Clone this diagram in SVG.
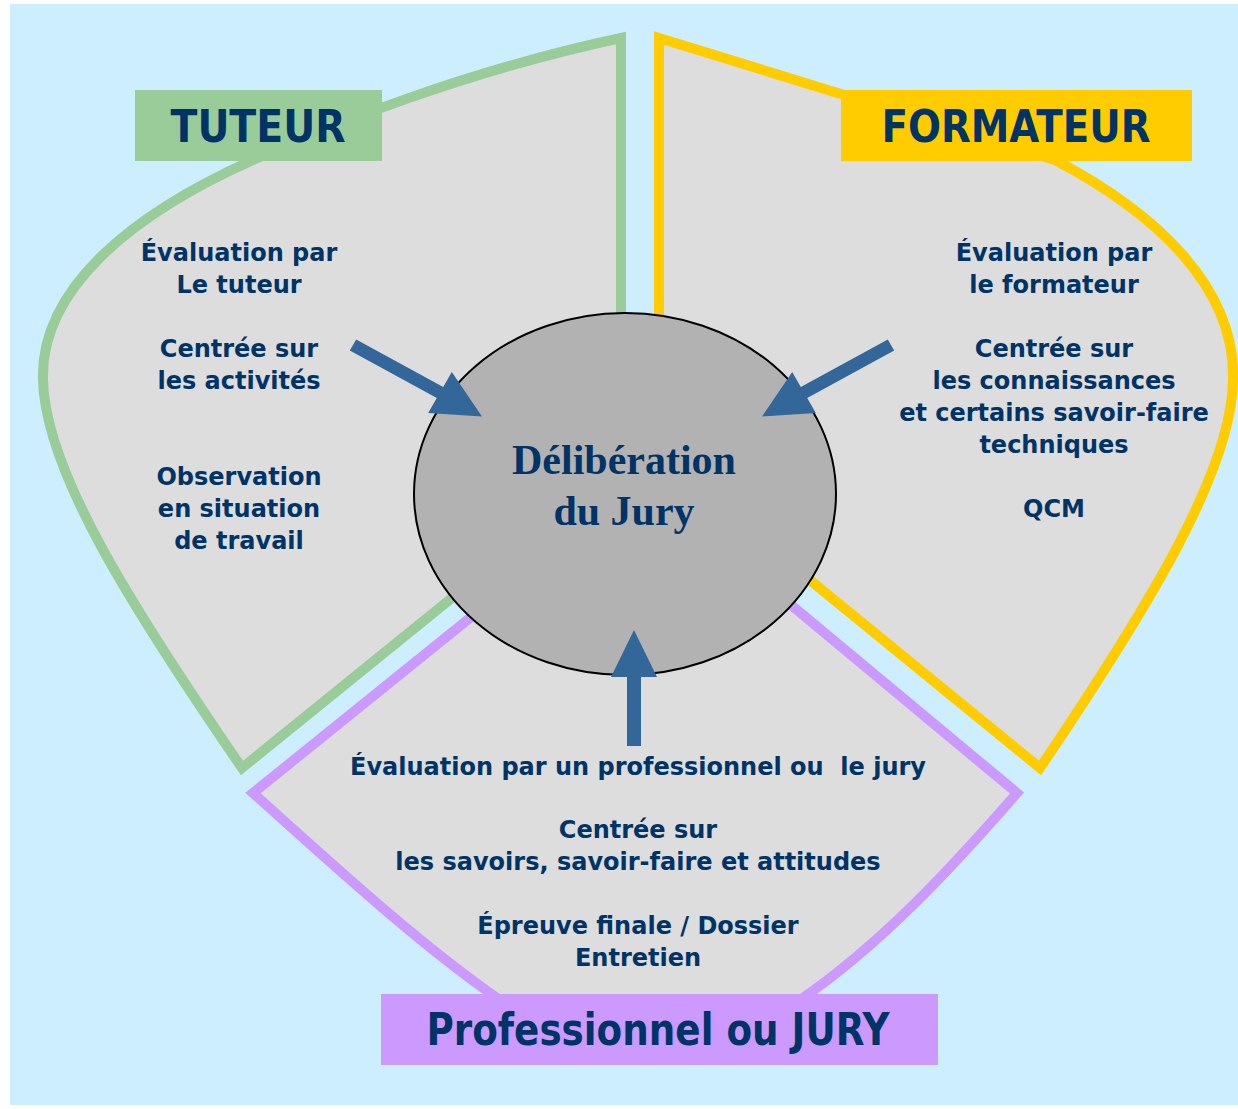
<svg xmlns="http://www.w3.org/2000/svg" width="1238" height="1109" viewBox="0 0 1238 1109">
<style>
.shape{fill:#dddddd;stroke-width:10;stroke-linejoin:miter;stroke-miterlimit:20}
.body{font-family:"DejaVu Sans","Liberation Sans",sans-serif;font-weight:bold;font-size:24px;fill:#003366;text-anchor:middle}
.lab{font-family:"DejaVu Sans","Liberation Sans",sans-serif;font-weight:bold;font-size:44px;fill:#003366;text-anchor:middle}
.arrow{fill:#336699}
</style>
<rect x="0" y="0" width="1238" height="1109" fill="#ffffff"/>
<rect x="10" y="4" width="1228" height="1101" fill="#cceeff"/>

<g id="node-tuteur">
<path class="shape" stroke="#99cc99" d="M621,38 L621,461 L242,768 C130,605 45,470 43,380 C40,290 130,215 253,160 C330,125 470,70 621,38 Z"/>
<rect x="135" y="90" width="247" height="71" fill="#99cc99"/>
<text class="lab" x="258" y="142" textLength="175" lengthAdjust="spacingAndGlyphs">TUTEUR</text>
<text class="body" x="239" y="261">Évaluation par</text>
<text class="body" x="239" y="293">Le tuteur</text>
<text class="body" x="239" y="357">Centrée sur</text>
<text class="body" x="239" y="389">les activités</text>
<text class="body" x="239" y="485">Observation</text>
<text class="body" x="239" y="517">en situation</text>
<text class="body" x="239" y="549">de travail</text>
</g>

<g id="node-formateur">
<path class="shape" stroke="#ffcc00" d="M659,38 L659,457 L1040,768 C1150,605 1232,470 1233,380 C1236,290 1160,215 1055,160 L659,38 Z"/>
<rect x="841" y="90" width="351" height="71" fill="#ffcc00"/>
<text class="lab" x="1016" y="142" textLength="269" lengthAdjust="spacingAndGlyphs">FORMATEUR</text>
<text class="body" x="1054" y="261">Évaluation par</text>
<text class="body" x="1054" y="293">le formateur</text>
<text class="body" x="1054" y="357">Centrée sur</text>
<text class="body" x="1054" y="389">les connaissances</text>
<text class="body" x="1054" y="421">et certains savoir-faire</text>
<text class="body" x="1054" y="453">techniques</text>
<text class="body" x="1054" y="517">QCM</text>
</g>

<g id="node-jury">
<path class="shape" stroke="#cc99ff" d="M641,480 L253,793 C330,862 420,945 500,1000 Q640,1080 800,1000 C880,945 950,870 1017,793 Z"/>
<rect x="381" y="994" width="557" height="71" fill="#cc99ff"/>
<text class="lab" x="658" y="1045" textLength="463" lengthAdjust="spacingAndGlyphs">Professionnel ou JURY</text>
<text class="body" x="638" y="775" xml:space="preserve">Évaluation par un professionnel ou  le jury</text>
<text class="body" x="638" y="838">Centrée sur</text>
<text class="body" x="638" y="870">les savoirs, savoir-faire et attitudes</text>
<text class="body" x="638" y="934">Épreuve finale / Dossier</text>
<text class="body" x="638" y="966">Entretien</text>
</g>

<g id="node-deliberation">
<ellipse cx="625" cy="494" rx="211" ry="181" fill="#b2b2b2" stroke="#000000" stroke-width="2"/>
<text x="624" y="474" font-family="'Liberation Serif','Times New Roman',serif" font-weight="bold" font-size="42" fill="#003366" text-anchor="middle">Délibération</text>
<text x="624" y="525" font-family="'Liberation Serif','Times New Roman',serif" font-weight="bold" font-size="42" fill="#003366" text-anchor="middle">du Jury</text>
</g>

<g id="connectors">
<polygon class="arrow" points="356.2,339.4 443.2,386.9 451.8,371.9 482,416.5 428.2,413.1 436.8,398.1 349.8,350.6"/>
<polygon class="arrow" points="887.8,339.4 800.8,386.9 792.2,371.9 762,416.5 815.8,413.1 807.2,398.1 894.2,350.6"/>
<polygon class="arrow" points="627,746 627,677 611,677 634,630 657,677 641,677 641,746"/>
</g>
</svg>
